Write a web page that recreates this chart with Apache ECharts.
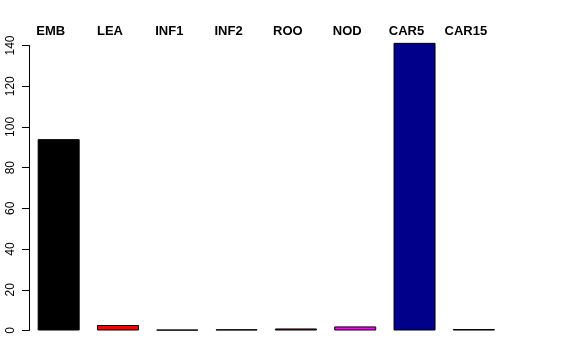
<!DOCTYPE html>
<html>
<head>
<meta charset="utf-8">
<script src="https://cdn.jsdelivr.net/npm/echarts@6/dist/echarts.min.js"></script>
<style>html,body{margin:0;padding:0;background:#fff;}#c{width:576px;height:360px;}</style>
</head>
<body>
<div id="c"></div>
<script>
var categories = ['EMB', 'LEA', 'INF1', 'INF2', 'ROO', 'NOD', 'CAR5', 'CAR15'];
var values = [94, 2.7, 0.4, 0.6, 1.0, 2.0, 141.3, 0.7];
var barColors = ['#000000', '#ff0000', '#006400', '#483d8b', '#8b0000', '#ff00ff', '#00008b', '#000000'];
var yTicks = [0, 20, 40, 60, 80, 100, 120, 140];

var chart = echarts.init(document.getElementById('c'), null, {renderer: 'canvas'});
chart.setOption({
  animation: false,
  backgroundColor: '#ffffff',
  grid: {left: 29, right: 72.5, top: 45.5, bottom: 29.5, containLabel: false},
  xAxis: {
    type: 'category',
    position: 'top',
    data: categories,
    axisLine: {show: false},
    axisTick: {show: false},
    axisLabel: {
      show: true, interval: 0, margin: 8,
      fontFamily: 'Liberation Sans', fontWeight: 'bold', fontSize: 13, color: '#000',
      padding: [0, 16, 0, 0]
    }
  },
  yAxis: {
    type: 'value',
    min: yTicks[0], max: yTicks[yTicks.length - 1], interval: 20,
    splitLine: {show: false},
    axisLine: {show: true, lineStyle: {color: '#000', width: 1}},
    axisTick: {show: true, length: 7, lineStyle: {color: '#000'}},
    axisLabel: {
      rotate: 90, margin: 12,
      fontFamily: 'Liberation Sans', fontSize: 12, color: '#000'
    }
  },
  series: [{
    type: 'bar',
    clip: false,
    barWidth: 42,
    data: values.map(function (v, i) {
      return {value: v, itemStyle: {color: barColors[i], borderColor: '#000', borderWidth: 1}};
    })
  }]
});
</script>
</body>
</html>
